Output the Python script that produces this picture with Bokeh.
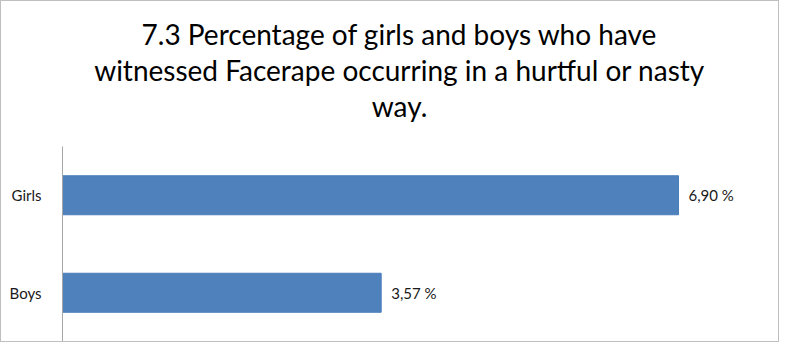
from bokeh.plotting import figure
from bokeh.models import ColumnDataSource, Range1d, Title
from bokeh.core.properties import value
from bokeh.embed import file_html
from bokeh.resources import INLINE

categories = ["Boys", "Girls"]
values = [3.57, 6.90]
labels = ["3,57 %", "6,90 %"]
title_lines = ["7.3 Percentage of girls and boys who have",
               "witnessed Facerape occurring in a hurtful or nasty",
               "way."]

W, H = 779, 342
src = ColumnDataSource(dict(cat=categories, val=values, lab=labels))

p = figure(width=W, height=H, y_range=categories, x_range=Range1d(0, 7.55),
           output_backend="svg", toolbar_location=None,
           min_border_left=61, min_border_right=44, min_border_bottom=2, min_border_top=145)
p.styles = {"border": "1px solid #bfbfbf"}

p.hbar(y="cat", right="val", left=0, height=0.4, source=src,
       fill_color="#4f81bd", line_color="#4a7ebb")
p.text(x="val", y="cat", text="lab", source=src, x_offset=10,
       text_baseline="middle", text_align="left",
       text_font=value("Lato"), text_font_size="15px", text_color="#1a1a1a")

p.title = None
# spacer between the title block and the plot area
p.add_layout(Title(text="\u00a0", align="center", standoff=0,
                   text_font="Lato", text_font_size="18px"), "above")
for line in reversed(title_lines):
    p.add_layout(Title(text=line, align="center", standoff=0,
                       text_font="Lato", text_font_size="28px",
                       text_font_style="normal", text_color="#000000"), "above")

p.xaxis.visible = False
p.xgrid.visible = False
p.ygrid.visible = False
p.outline_line_color = None
yax = p.yaxis[0]
yax.axis_line_color = "#a6a6a6"
yax.major_tick_line_color = None
yax.minor_tick_line_color = None
yax.major_label_standoff = 15
yax.major_label_text_font = "Lato"
yax.major_label_text_font_size = "15px"
yax.major_label_text_color = "#1a1a1a"

open("out.html", "w").write(file_html(p, INLINE))
